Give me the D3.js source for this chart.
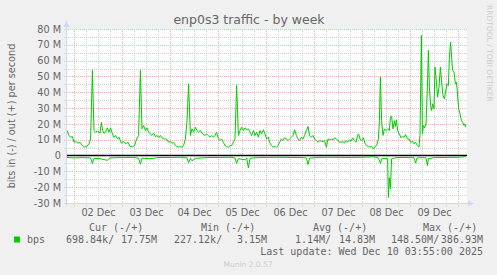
<!DOCTYPE html>
<html>
<head>
<meta charset="utf-8">
<script src="https://d3js.org/d3.v7.min.js"></script>
<style>
body { margin: 0; background: #F0F0F0; }
svg text { font-family: "DejaVu Sans", sans-serif; fill: #666666; }
svg text.mono { font-family: "DejaVu Sans Mono", monospace; white-space: pre; }
</style>
</head>
<body>
<div id="chart-area"></div>
<script>
// hours after 01 Dec 2025 00:00, values in Mbit/s
var outHours = [20.5,21.5,22.3,23.2,24,24.8,26,27,28.2,29.3,30.3,31.5,32.3,33.2,34,34.8,35.7,36.5,37,37.7,38.3,39,39.8,40.7,41.5,42.3,43.2,44,44.8,45.7,46.5,47.7,48.7,49.8,51,52,53.2,54.3,55.3,56.3,57.2,58,58.8,59.7,60.5,61.3,62.2,63,63.8,64.7,65.5,66.3,67.2,68,68.8,69.7,70.5,71.3,72.2,73,73.8,74.7,75.5,76.3,77.2,78,78.8,79.7,80.5,81.3,82.2,83,83.8,84.7,85.5,86.3,87.2,88.3,89.5,90.3,91.2,92,92.8,93.7,94.5,95.3,96.2,97,97.8,98.7,99.5,100.3,101.2,102,102.8,103.7,104.5,105.3,106.2,107,107.8,108.7,109.5,110.3,111.2,112,112.8,113.7,114.5,115.3,116.2,117,117.8,118.7,119.5,120.3,121.2,121.8,122.7,123.5,124.3,125.2,126,126.8,127.7,128.5,129.3,130.2,131,131.8,132.7,133.5,134.3,135.2,136,136.8,137.7,138.5,139.3,140.2,141,141.8,142.7,143.5,144.3,145.2,146,146.8,147.7,148.5,149.3,150.2,151,151.8,152.7,153.5,154.3,155.2,155.8,156.7,157.5,158.3,159.2,160,160.8,161.7,162.5,163.3,164.2,165,165.8,166.3,167,167.8,168.7,169.5,170.3,171.2,172,172.8,173.7,174.5,175.3,176.2,176.7,177.2,177.8,178.5,179.2,180,180.8,181.7,182.2,182.8,183.5,184.2,184.7,185.2,185.8,186.7,187.5,188.3,189.2,189.8,190.7,191.5,192.3,193.2,194,194.8,195.7,196.5,197,197.7,198.2,198.7,199.3,200,200.7,201.2,201.7,202.3,202.8,203.3,204,204.5,205.2,205.8,206.5,207.2,207.8,208.5,209.2,209.8,210.5,211.2,211.7,212.3,212.8,213.3,214,214.7,215.2,215.7,216.3,217,217.7,218.3,219,219.5,219.8];
var outValues = [15.8,12.7,11.6,12,8.4,9,7.8,8.4,6.3,5.3,5.7,7.4,10.5,53.8,15.8,14.8,15.4,14.8,14.1,21,15.8,14.1,14.8,17.5,14.8,17.5,13.7,11.6,12.7,10.5,11.6,7.8,9,7.4,8.4,5.7,5.7,6.3,10.5,12.7,53.8,16.9,19,15.8,17.5,14.8,13.7,12.7,14.1,12,12.7,11.2,12.7,11.2,10.5,10.5,9.9,8.4,9,7.8,8.4,6.3,5.7,5.3,5.7,5.3,6.3,10.5,22,45.4,12.7,16.9,14.8,17.9,15.8,14.8,15.8,13.7,12.7,13.7,12.7,11.6,12.7,11.6,12.7,14.8,10.5,9.5,10.5,8.4,6.3,5.7,5.3,6.3,6.3,8.4,10.5,44.3,12.7,15.8,17.9,15.8,17.5,16.3,16.9,14.8,12.7,15.8,12.7,14.8,11.6,15.8,13.7,16.3,13.7,10.5,11.6,8.4,6.3,5.3,5.7,5.3,6.3,8.4,10.5,9.5,11.2,10.5,9.5,10.5,11.6,12.7,16.3,12.7,10.5,9.5,11.6,10.5,12.7,15.8,18.4,12.7,11.6,12.7,10.5,9.5,8.4,9.5,9,9,9.5,5.3,10.5,9.9,10.5,9.9,11.2,10.5,9.9,8.4,8.4,9,7.8,9.5,8.4,9.9,9,11.2,9.5,8.4,12.7,13.7,10.5,9.5,11.2,7.8,6.3,5.7,5.3,5.7,4.2,5.7,6.3,10.5,22,49.6,22,12.7,16.9,15.8,16.9,15.8,24.3,24.7,16.9,22,18.4,22.6,15.8,13.7,11.2,12,11.6,13.3,10.5,10.5,8.4,9,7.4,8.4,6.3,5.3,12.7,76,13.7,19,17.5,20,43.3,66.5,43.3,31.7,28.5,32.7,29.6,56,46.4,36.9,43.3,56,46.4,38,35.9,40.1,45.4,44.3,62.3,71.8,62.3,53.8,52.8,45.4,46.4,40.1,29.6,26.4,22,21,19,20,17.9];
var inHours = [20.5,24,28,32.3,33.2,34,37,40.7,42,48,54,56.3,57.2,58,62,66,72,78,80.5,81.3,82.2,83,84.7,90,96,102,104.5,105.3,106.2,109.5,110.3,111.2,112,114,120,126,132,138,140.2,141,141.8,146,152,158,164,170,174,176.2,177.2,178,180.8,181.2,181.7,182.2,182.8,185,190,194,194.8,195.5,198,200,200.7,201.2,204,210,216,219.8];
var inValues = [-1.2,-1.5,-1.3,-1.5,-5,-1.8,-2,-3,-1.5,-1.2,-1.2,-1.7,-5.5,-1.6,-2,-1.3,-1.2,-1.1,-1.5,-4.5,-1.8,-3.3,-1.8,-1.3,-1.2,-1.1,-1.5,-5,-2,-2.7,-1.5,-7.8,-1.8,-1.4,-1.2,-1.1,-1.2,-1.3,-1.5,-5.7,-1.6,-1.2,-1.1,-1.2,-1.2,-1,-0.8,-1.5,-5,-1.8,-2,-26.5,-14,-21,-2,-1.3,-1.2,-1.3,-4.8,-1.5,-1.3,-1.5,-6.3,-2,-1.3,-1.2,-1.1,-0.7];
var yTicks = [-30,-20,-10,0,10,20,30,40,50,60,70,80];
var dayLabels = ["02 Dec","03 Dec","04 Dec","05 Dec","06 Dec","07 Dec","08 Dec","09 Dec"];
var legendHeads = ["Cur (-/+)","Min (-/+)","Avg (-/+)","Max (-/+)"];
var legendIn = ["698.84k/","227.12k/","1.14M/","148.50M/"];
var legendOut = ["17.75M","3.15M","14.83M","386.93M"];

var width = 497;
var height = 275;
var pLeft = 67, pRight = 467, pTop = 29, pBottom = 203;

var base = new Date(2025, 11, 1, 0, 0);
function toTime(h) { return d3.timeMinute.offset(base, Math.round(h * 60)); }

var svg = d3.select("#chart-area").append("svg")
	.attr("width", width)
	.attr("height", height);

svg.append("rect").attr("width", width).attr("height", height).attr("fill", "#F0F0F0");

var x = d3.scaleTime()
	.domain([toTime(20.5), toTime(220.5)])
	.range([pLeft, pRight]);
var y = d3.scaleLinear()
	.domain([-30, 80])
	.range([pBottom, pTop]);

svg.append("rect")
	.attr("x", pLeft).attr("y", pTop)
	.attr("width", pRight - pLeft).attr("height", pBottom - pTop)
	.attr("fill", "#FFFFFF");

// grid
var minorY = d3.range(-25, 80, 10);
var minorX = d3.timeHour.every(6).range(x.domain()[0], x.domain()[1]).filter((d)=>{return d.getHours() != 0;});
var majorX = d3.timeDay.range(x.domain()[0], x.domain()[1]);

var grid = svg.append("g");
function hLines(vals, color) {
	grid.selectAll(null).data(vals).enter().append("line")
		.attr("x1", pLeft - 3).attr("x2", pRight)
		.attr("y1", (d)=>{return Math.round(y(d)) + 0.5;})
		.attr("y2", (d)=>{return Math.round(y(d)) + 0.5;})
		.attr("stroke", color).attr("stroke-dasharray", "1,1");
}
function vLines(vals, color) {
	grid.selectAll(null).data(vals).enter().append("line")
		.attr("y1", pTop).attr("y2", pBottom + 3)
		.attr("x1", (d)=>{return Math.round(x(d)) + 0.5;})
		.attr("x2", (d)=>{return Math.round(x(d)) + 0.5;})
		.attr("stroke", color).attr("stroke-dasharray", "1,1");
}
hLines(minorY, "#CFCFCF");
vLines(minorX, "#CFCFCF");
hLines(yTicks.filter((d)=>{return d != 0;}), "#F0B0B0");
vLines(majorX, "#F0B0B0");

// zero rule
svg.append("line")
	.attr("x1", pLeft).attr("x2", pRight)
	.attr("y1", y(0)).attr("y2", y(0))
	.attr("stroke", "#000000").attr("stroke-width", 1.5);

var line = d3.line()
	.x((d)=>{return x(toTime(d[0]));})
	.y((d)=>{return y(d[1]);});

svg.append("path")
	.datum(d3.zip(inHours, inValues))
	.attr("d", line)
	.attr("fill", "none").attr("stroke", "#00CC00").attr("stroke-width", 1);
svg.append("path")
	.datum(d3.zip(outHours, outValues))
	.attr("d", line)
	.attr("fill", "none").attr("stroke", "#00CC00").attr("stroke-width", 1);

// axis lines with arrows
svg.append("line").attr("x1", pLeft - 0.5).attr("x2", pLeft - 0.5).attr("y1", pBottom + 3).attr("y2", 24)
	.attr("stroke", "#CFD6F8");
svg.append("path").attr("d", "M" + (pLeft - 3.5) + ",27L" + (pLeft - 0.5) + ",21L" + (pLeft + 2.5) + ",27Z")
	.attr("fill", "#CFD6F8");
svg.append("line").attr("x1", pLeft - 3).attr("x2", pRight + 4).attr("y1", pBottom + 0.5).attr("y2", pBottom + 0.5)
	.attr("stroke", "#CFD6F8");
svg.append("path").attr("d", "M" + (pRight + 1) + "," + (pBottom - 2.5) + "L" + (pRight + 7) + "," + (pBottom + 0.5) + "L" + (pRight + 1) + "," + (pBottom + 3.5) + "Z")
	.attr("fill", "#CFD6F8");

// axes text
var leftAxis = d3.axisLeft(y)
	.tickValues(yTicks)
	.tickSize(0)
	.tickPadding(6)
	.tickFormat((d)=>{return d == 0 ? "0" : d + " M";});
var gy = svg.append("g")
	.attr("transform", "translate(" + pLeft + ",0)")
	.call(leftAxis);
gy.select(".domain").remove();
gy.selectAll("text").attr("font-size", "9.7px").attr("fill", "#666666");
gy.attr("font-family", null).attr("font-size", null);

var noon = dayLabels.map((d, i)=>{return toTime(36 + 24 * i);});
var bottomAxis = d3.axisBottom(x)
	.tickValues(noon)
	.tickSize(0)
	.tickPadding(6)
	.tickFormat((d, i)=>{return dayLabels[i];});
var gx = svg.append("g")
	.attr("transform", "translate(0," + pBottom + ")")
	.call(bottomAxis);
gx.select(".domain").remove();
gx.selectAll("text").attr("font-size", "9.7px").attr("fill", "#666666");
gx.attr("font-family", null).attr("font-size", null);

// titles
svg.append("text")
	.attr("x", 249).attr("y", 23.5)
	.attr("text-anchor", "middle")
	.attr("font-size", "12.5px")
	.text("enp0s3 traffic - by week");
svg.append("text")
	.attr("x", -(pTop + pBottom) / 2)
	.attr("y", 14.5)
	.attr("text-anchor", "middle")
	.attr("font-size", "9.7px")
	.attr("transform", "rotate(-90)")
	.text("bits in (-) / out (+) per second");
svg.append("text")
	.attr("transform", "translate(487,5) rotate(90)")
	.attr("font-size", "7.5px")
	.style("fill", "#CCCCCC")
	.text("RRDTOOL / TOBI OETIKER");

// legend
var headX = [89, 201, 313, 423];
var inX = [66, 174, 295, 391];
var outX = [157, 267, 375, 483];
svg.selectAll(".head").data(legendHeads).enter().append("text")
	.attr("class", "mono head")
	.attr("x", (d, i)=>{return headX[i];})
	.attr("y", 231)
	.attr("font-size", "10px")
	.text((d)=>{return d;});
svg.append("rect").attr("x", 14).attr("y", 236.5).attr("width", 6).attr("height", 6).attr("fill", "#00CC00");
svg.append("text").attr("class", "mono").attr("x", 27).attr("y", 243).attr("font-size", "10px").text("bps");
svg.selectAll(".vin").data(legendIn).enter().append("text")
	.attr("class", "mono vin")
	.attr("x", (d, i)=>{return inX[i];})
	.attr("y", 243)
	.attr("font-size", "10px")
	.text((d)=>{return d;});
svg.selectAll(".vout").data(legendOut).enter().append("text")
	.attr("class", "mono vout")
	.attr("x", (d, i)=>{return outX[i];})
	.attr("y", 243)
	.attr("text-anchor", "end")
	.attr("font-size", "10px")
	.text((d)=>{return d;});
svg.append("text")
	.attr("class", "mono")
	.attr("x", 483).attr("y", 254.5)
	.attr("text-anchor", "end")
	.attr("font-size", "10px")
	.text("Last update: Wed Dec 10 03:55:00 2025");
svg.append("text")
	.attr("x", 248).attr("y", 267)
	.attr("text-anchor", "middle")
	.attr("font-size", "7.5px")
	.style("fill", "#CCCCCC")
	.text("Munin 2.0.57");
</script>
</body>
</html>
